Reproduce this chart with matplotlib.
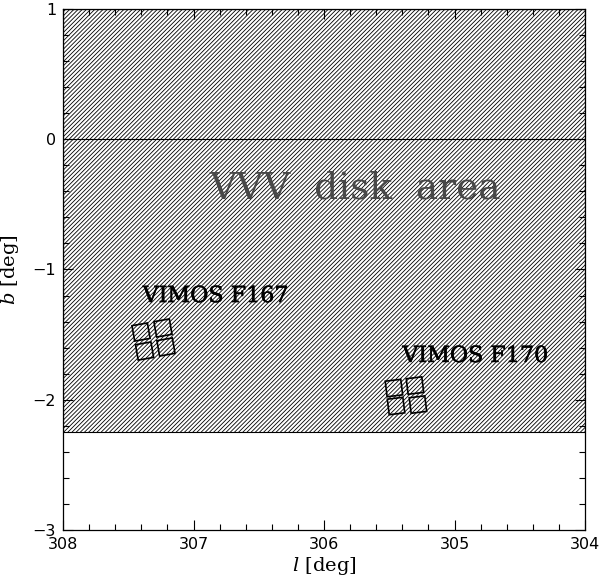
import numpy as np
import matplotlib
matplotlib.use("Agg")
import matplotlib.pyplot as plt
import matplotlib.patheffects as pe
from matplotlib.patches import Rectangle, Polygon
from matplotlib.ticker import MultipleLocator

# ---- data ----
l_range = [308, 304]
b_range = [-3, 1]
vvv_b_min = -2.25
vvv_b_max = 1.0
x_ticks = [308, 307, 306, 305, 304]
y_ticks = [-3, -2, -1, 0, 1]

field_names = ["VIMOS F167", "VIMOS F170"]
label_l = [307.39, 305.40]
label_b = [-1.25, -1.71]
# centres of the four VIMOS quadrants per field (l, b)
f167_l = [307.402, 307.234, 307.375, 307.211]
f167_b = [-1.480, -1.449, -1.626, -1.595]
f170_l = [305.464, 305.303, 305.448, 305.280]
f170_b = [-1.910, -1.891, -2.048, -2.037]
quad_size = 0.12
field_angle = [10.0, 7.0]

plt.rcParams['hatch.linewidth'] = 0.6
plt.rcParams['mathtext.fontset'] = 'dejavuserif'

fig = plt.figure(figsize=(6.0, 5.78), dpi=100)
ax = fig.add_axes([0.105, 0.083, 0.87, 0.9015])
ax.set_xlim(*l_range)
ax.set_ylim(*b_range)

# VVV disk area
ax.add_patch(Rectangle((min(l_range), vvv_b_min), abs(l_range[1] - l_range[0]),
                       vvv_b_max - vvv_b_min, facecolor='none', edgecolor='black',
                       hatch='////////', linewidth=0.8))
ax.axhline(0, color='black', linewidth=0.8)

ax.text(305.76, -0.38, "VVV  disk  area", fontsize=27, family='DejaVu Serif',
        color='#484848', ha='center', va='center', fontweight='light')

def draw_field(ls, bs, ang):
    t = np.deg2rad(ang)
    h = quad_size / 2
    base = np.array([[-h, -h], [h, -h], [h, h], [-h, h]])
    R = np.array([[np.cos(t), -np.sin(t)], [np.sin(t), np.cos(t)]])
    for lc, bc in zip(ls, bs):
        c = base @ R.T
        # u = -l increases to the right on an inverted axis
        pts = np.column_stack([lc - c[:, 0], bc + c[:, 1]])
        ax.add_patch(Polygon(pts, closed=True, facecolor='none',
                             edgecolor='black', linewidth=1.2))

draw_field(f167_l, f167_b, field_angle[0])
draw_field(f170_l, f170_b, field_angle[1])

for name, lx, by in zip(field_names, label_l, label_b):
    ax.text(lx, by, name, fontsize=16, family='DejaVu Serif', ha='left',
            va='baseline', color='black',
            path_effects=[pe.withStroke(linewidth=0.35, foreground='black')])

ax.set_xticks(x_ticks)
ax.set_yticks(y_ticks)
ax.xaxis.set_minor_locator(MultipleLocator(0.2))
ax.yaxis.set_minor_locator(MultipleLocator(0.2))
ax.tick_params(which='both', direction='in', top=True, right=True,
               labelsize=11.5, width=0.8)
ax.tick_params(which='major', length=7.2, pad=5)
ax.tick_params(which='minor', length=4.3)
for lab in ax.get_xticklabels() + ax.get_yticklabels():
    lab.set_family('DejaVu Sans')
for s in ax.spines.values():
    s.set_linewidth(0.9)

ax.set_xlabel(r"$l$ [deg]", fontsize=14, family='DejaVu Serif', labelpad=2)
ax.set_ylabel(r"$b$ [deg]", fontsize=14, family='DejaVu Serif', labelpad=8)

fig.savefig("out.png", dpi=100)
